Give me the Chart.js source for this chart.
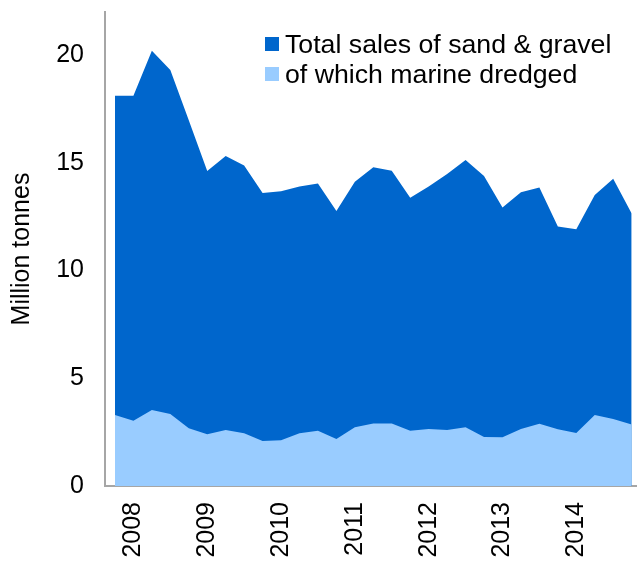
<!DOCTYPE html>
<html>
<head>
<meta charset="utf-8">
<script src="https://cdn.jsdelivr.net/npm/chart.js@4"></script>
<style>
  html, body { margin: 0; padding: 0; background: #fff; }
  #wrap { width: 637px; height: 562px; }
</style>
</head>
<body>
<div id="wrap"><canvas id="chart"></canvas></div>
<script>
// quarterly sales, million tonnes
const quarters = [
    '2007 Q4',
    '2008 Q1', '2008 Q2', '2008 Q3', '2008 Q4',
    '2009 Q1', '2009 Q2', '2009 Q3', '2009 Q4',
    '2010 Q1', '2010 Q2', '2010 Q3', '2010 Q4',
    '2011 Q1', '2011 Q2', '2011 Q3', '2011 Q4',
    '2012 Q1', '2012 Q2', '2012 Q3', '2012 Q4',
    '2013 Q1', '2013 Q2', '2013 Q3', '2013 Q4',
    '2014 Q1', '2014 Q2', '2014 Q3', '2014 Q4',
]

const totalSales = [
    18.11,
    18.11, 20.20, 19.31, 16.97,
    14.62, 15.32, 14.87, 13.60,
    13.68, 13.90, 14.04, 12.76,
    14.12, 14.79, 14.63, 13.38,
    13.90, 14.48, 15.13, 14.39,
    12.93, 13.63, 13.85, 12.04,
    11.92, 13.51, 14.26, 12.65,
]

const marineDredged = [
    3.29,
    3.03, 3.53, 3.34, 2.68,
    2.40, 2.60, 2.45, 2.09,
    2.12, 2.45, 2.56, 2.18,
    2.73, 2.90, 2.90, 2.56,
    2.65, 2.60, 2.73, 2.28,
    2.26, 2.65, 2.89, 2.63,
    2.46, 3.29, 3.11, 2.86,
]

const seriesNames = ['Total sales of sand & gravel', 'of which marine dredged']

const FONT = 'Liberation Sans, Arial, sans-serif'
const AXIS_GREY = '#a6a6a6'

const toPoints = (arr) => arr.map((v, i) => ({ x: i, y: v }))

// the legend sits inside the plot, top right
const insideLegend = {
    id: 'insideLegend',
    afterDraw(chart) {
        const ctx = chart.ctx
        ctx.save()
        ctx.font = '26.7px ' + FONT
        ctx.textBaseline = 'alphabetic'
        ctx.textAlign = 'left'
        chart.data.datasets.forEach((ds, i) => {
            const top = 37 + i * 30
            ctx.fillStyle = ds.backgroundColor
            ctx.fillRect(265, top, 14, 14)
            ctx.fillStyle = '#000'
            ctx.fillText(ds.label, 285, top + 16)
        })
        ctx.restore()
    }
}

new Chart(document.querySelector('#chart'), {
    type: 'line',
    data: {
        datasets: [{
            label: seriesNames[0],
            data: toPoints(totalSales),
            backgroundColor: '#0066cc',
            borderWidth: 0,
            pointRadius: 0,
            fill: 'origin',
            order: 2,
        }, {
            label: seriesNames[1],
            data: toPoints(marineDredged),
            backgroundColor: '#99ccff',
            borderWidth: 0,
            pointRadius: 0,
            fill: 'origin',
            order: 1,
        }]
    },
    plugins: [insideLegend],
    options: {
        responsive: true,
        maintainAspectRatio: false,
        animation: false,
        layout: { padding: { top: 12, right: 0, left: 0, bottom: 0 } },
        plugins: {
            legend: { display: false },
            tooltip: { enabled: false },
        },
        scales: {
            x: {
                type: 'linear',
                min: -0.54,
                max: 28.29,
                grid: { display: false, drawTicks: false },
                border: { display: true, color: AXIS_GREY, width: 2 },
                afterBuildTicks: (scale) => {
                    scale.ticks = quarters
                        .map((q, i) => ({ value: i, q: q }))
                        .filter(t => t.q.endsWith('Q1'))
                        .map(t => ({ value: t.value }))
                },
                afterFit: (scale) => {
                    scale.height = 76
                    scale.paddingLeft = 0
                    scale.paddingRight = 0
                },
                ticks: {
                    autoSkip: false,
                    minRotation: 90,
                    maxRotation: 90,
                    padding: 16,
                    color: '#000',
                    font: { family: FONT, size: 25 },
                    callback: (value) => quarters[value].slice(0, 4),
                },
            },
            y: {
                min: 0,
                max: 22,
                grid: { display: false, drawTicks: false },
                border: { display: true, color: AXIS_GREY, width: 2 },
                afterFit: (scale) => {
                    scale.width = 105
                    scale.paddingTop = 0
                    scale.paddingBottom = 0
                },
                ticks: {
                    stepSize: 5,
                    includeBounds: false,
                    padding: 21,
                    color: '#000',
                    font: { family: FONT, size: 25 },
                },
                title: {
                    display: true,
                    text: 'Million tonnes',
                    color: '#000',
                    padding: { top: 7, bottom: 0 },
                    font: { family: FONT, size: 25 },
                },
            }
        }
    }
});
</script>
</body>
</html>
